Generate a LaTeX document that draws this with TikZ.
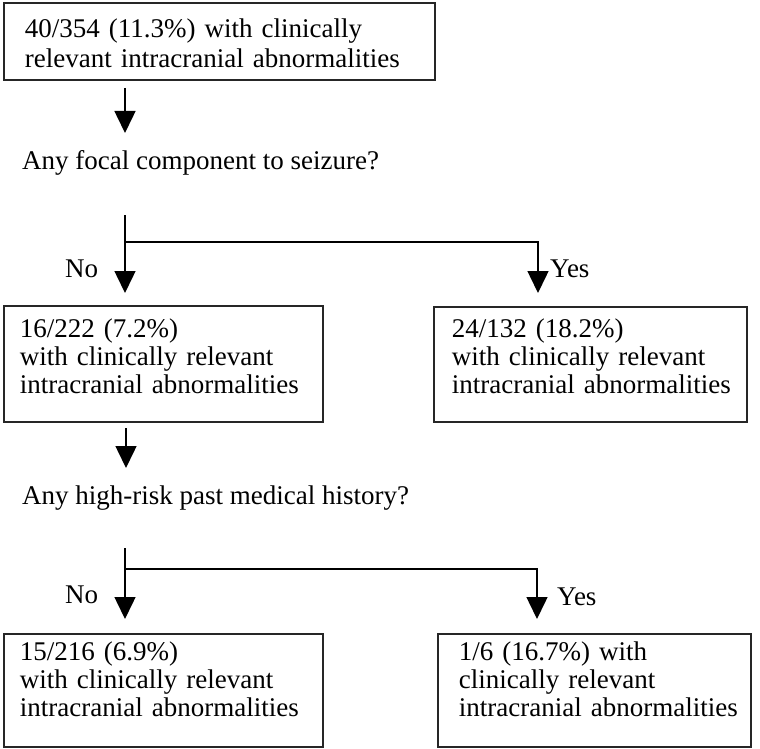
\documentclass[tikz,border=0pt]{standalone}
\usepackage{fontspec}
\setmainfont{Liberation Serif}
\usetikzlibrary{arrows.meta,calc}
\newcommand{\tstrut}[1]{\rule{0pt}{#1pt}}
\newcommand{\bstrut}[1]{\rule[-#1pt]{0pt}{#1pt}}
\begin{document}
\begin{tikzpicture}[x=1pt,y=-1pt,
  every node/.style={font=\fontsize{27}{28}\selectfont},
  box/.style={draw=black!85, line width=1.8pt, align=left, anchor=north west, inner ysep=0pt},
  arr/.style={line width=1.5pt, -{Triangle[width=21pt,length=22pt]}},
  lbl/.style={anchor=base west, inner sep=0pt}]
\useasboundingbox (0,0) rectangle (760,749);

% boxes
\node[box, inner xsep=21pt, text width=389pt, font=\fontsize{27}{30}\selectfont] (b1) at (3,2)
  {\tstrut{35}40/354 (11.3\%) with clinically\\relevant intracranial abnormalities\bstrut{12}};
\node[box, inner xsep=16pt, text width=287pt] (b2) at (3,305)
  {\tstrut{32}16/222 (7.2\%)\\with clinically relevant\\\mbox{intracranial abnormalities}\bstrut{28}};
\node[box, inner xsep=18pt, text width=277pt] (b3) at (433,306)
  {\tstrut{31}24/132 (18.2\%)\\with clinically relevant\\\mbox{intracranial abnormalities}\bstrut{28}};
\node[box, inner xsep=16pt, text width=287pt] (b4) at (3,633)
  {\tstrut{27}15/216 (6.9\%)\\with clinically relevant\\\mbox{intracranial abnormalities}\bstrut{30}};
\node[box, inner xsep=21pt, text width=271pt] (b5) at (437,633)
  {\tstrut{27}1/6 (16.7\%) with\\clinically relevant\\\mbox{intracranial abnormalities}\bstrut{30}};

% questions
\node[lbl] (q1) at (22,169) {Any focal component to seizure?};
\node[lbl] (q2) at (22,504) {Any high-risk past medical history?};

% labels
\node[lbl] (no1) at (65,277) {No};
\node[lbl] (yes1) at (550,277) {Yes};
\node[lbl] (no2) at (65,603) {No};
\node[lbl] (yes2) at (557,605) {Yes};

% connectors
\coordinate (a1s) at (125,88);
\coordinate (a1e) at (125,133);
\draw[arr] (a1s) -- (a1e);

\coordinate (s1) at (125,215);
\coordinate (j1) at (125,242);
\draw[arr, shorten >=12pt] (s1) -- (s1 |- b2.north);
\draw[arr, shorten >=13pt] (j1) -| ([xshift=105pt]b3.north west);

\coordinate (a2s) at (126,428);
\coordinate (a2e) at (126,468);
\draw[arr] (a2s) -- (a2e);

\coordinate (s2) at (125,548);
\coordinate (j2) at (125,569);
\draw[arr, shorten >=14pt] (s2) -- (s2 |- b4.north);
\draw[arr, shorten >=14pt] (j2) -| ([xshift=100pt]b5.north west);
\end{tikzpicture}
\end{document}
